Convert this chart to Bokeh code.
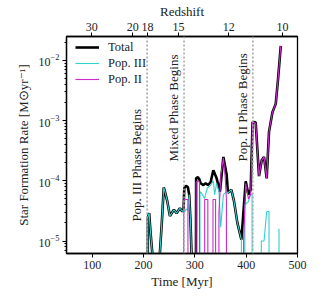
import numpy as np
from bokeh.plotting import figure
from bokeh.models import LinearAxis, FixedTicker, Span, Label, Legend, LegendItem, Range1d
from bokeh.embed import file_html
from bokeh.resources import INLINE

# ---------------- data ----------------
t_total = [205, 207.5, 208.5, 211, 214, 217, 217.5,
           231.5, 232, 235.8, 239.5, 242, 246.3, 251.4, 259.2, 264.5, 270.9, 275.6, 278, 279.5, 283, 286.5, 289, 291.5, 293.5, 294,
           301.5, 302.5, 306, 309, 311.3, 316.6, 321, 325.5, 330.8, 336, 342.5, 349, 355.6, 362, 364.6, 371.2, 376.3, 382.9, 390.7,
           399.1, 404.4, 408.8, 412.5, 414.1, 418.6, 425, 430.3, 434.8, 440, 444.5, 451.2, 457.6, 462.1, 467.4]
sfr_total = [0, 0, 2.5e-5, 2.9e-5, 1.3e-5, 6.5e-6, 0,
             0, 6.5e-6, 2.1e-5, 7.8e-5, 6.5e-5, 4.6e-5, 2.6e-5, 3.3e-5, 2.9e-5, 3.5e-5, 3.1e-5, 3.3e-5, 7.6e-5, 8.3e-5, 7.8e-5, 5.9e-5, 2.2e-5, 6.5e-6, 0,
             0, 1.1e-4, 1.15e-4, 1.05e-4, 9.1e-5, 8.5e-5, 9.1e-5, 8.5e-5, 9.5e-5, 1.5e-4, 1.1e-4, 6.6e-5, 2.5e-4, 1.26e-4, 6.3e-5, 7.1e-5, 4.6e-5, 2.0e-5, 1.05e-5,
             9.8e-5, 5.9e-5, 7.1e-5, 9.5e-4, 9.5e-4, 9.3e-4, 1.2e-4, 2.2e-4, 2.5e-4, 1.1e-4, 6.5e-4, 1.38e-3, 1.9e-3, 4.9e-3, 1.74e-2]

t_pop3 = [205, 207.5, 208.5, 211, 214, 217, 217.5,
          231.5, 232, 235.8, 239.5, 242, 246.3, 251.4, 259.2, 264.5, 270.9, 275.6, 278, 279.5, 283, 286.5, 289, 291.5, 293.5, 294,
          309.5, 310, 311.3, 319, 324.3, 330.8, 336, 338.6, 342.5, 347, 350.3, 355.6, 362, 364.6, 371.2, 376.3, 382.9, 390.7, 391.5,
          397, 397.5, 404.4, 408.8, 411.5, 412,
          429, 429.5, 434.8, 440, 444.5, 445,
          463.5, 464, 464.5]
sfr_pop3 = [0, 0, 2.5e-5, 2.9e-5, 1.3e-5, 6.5e-6, 0,
            0, 6.5e-6, 2.1e-5, 7.8e-5, 6.5e-5, 4.6e-5, 2.6e-5, 3.3e-5, 2.9e-5, 3.5e-5, 3.1e-5, 3.3e-5, 3.0e-5, 3.4e-5, 3.2e-5, 5.9e-5, 2.2e-5, 6.5e-6, 0,
            0, 6.0e-5, 6.6e-5, 5.1e-5, 7.6e-5, 8.5e-5, 1.0e-4, 5.9e-5, 9.1e-5, 6.6e-5, 1.7e-5, 5.9e-5, 6.6e-5, 6.3e-5, 7.1e-5, 4.6e-5, 2.0e-5, 1.05e-5, 0,
            0, 4.0e-5, 4.5e-5, 6.0e-5, 6.0e-5, 0,
            0, 1.0e-5, 1.0e-5, 3.1e-5, 3.1e-5, 0,
            0, 1.6e-5, 0]

t_pop2 = [278, 278.5, 286.5, 287,
          301.5, 302.5, 306, 309, 309.5,
          318.8, 319.2, 325.3, 325.7,
          335, 335.4, 340.4, 340.8,
          346.5, 347, 351, 355.6, 359, 361.5, 362,
          394.5, 395, 399.1, 404.4, 408.8, 412.5, 414.1, 418.6, 425, 430.3, 434.8, 440, 444.5, 451.2, 457.6, 462.1, 467.4]
sfr_pop2 = [0, 4.9e-5, 4.9e-5, 0,
            0, 9.5e-5, 1.0e-4, 9.5e-5, 0,
            0, 4.9e-5, 4.9e-5, 0,
            0, 4.9e-5, 4.9e-5, 0,
            0, 3.0e-5, 1.3e-4, 2.4e-4, 1.2e-4, 5.0e-5, 0,
            0, 1.0e-5, 9.0e-5, 5.0e-5, 6.0e-5, 9.3e-4, 9.3e-4, 9.1e-4, 1.2e-4, 2.2e-4, 2.5e-4, 1.1e-4, 6.5e-4, 1.38e-3, 1.9e-3, 4.9e-3, 1.74e-2]

phase_times = [207, 279, 413]
phase_labels = ["Pop. III Phase Begins", "Mixed Phase Begins", "Pop. II Phase Begins"]
phase_label_y = [2.1e-5, 2.1e-4, 2.1e-4]

time_ticks = [100, 200, 300, 400, 500]
redshift_ticks = [30, 20, 18, 15, 12, 10]
redshift_ages = [99, 179, 208, 268, 366, 471]

# ---------------- plot ----------------
FLOOR = 1e-9  # zero SFR drawn below the visible range


def floored(v):
    return [max(x, FLOOR) for x in v]


FONT = "Liberation Serif"
TXT = "#222222"

p = figure(width=314, height=291, output_backend="svg", toolbar_location=None,
           y_axis_type="log", x_range=Range1d(50, 500), y_range=Range1d(6.2e-6, 2.5e-2),
           min_border_left=66, min_border_right=17, min_border_top=34, min_border_bottom=38)
p.xgrid.visible = False
p.ygrid.visible = False
p.outline_line_color = "black"
p.outline_line_width = 1.3
p.background_fill_color = "white"
p.border_fill_color = "white"

r_tot = p.line(t_total, floored(sfr_total), line_color="black", line_width=2.6)
r_p3 = p.line(t_pop3, floored(sfr_pop3), line_color="#33d0cc", line_width=1.1)
r_p2 = p.line(t_pop2, floored(sfr_pop2), line_color="#cc2acc", line_width=1.1)

for t in phase_times:
    p.add_layout(Span(location=t, dimension="height", line_color="#a8a8a8",
                      line_width=1.6, line_dash="2 2"))

for t, lab, yv in zip(phase_times, phase_labels, phase_label_y):
    p.add_layout(Label(x=t, y=yv, x_offset=-3, text=lab, angle=np.pi / 2,
                       text_align="left", text_baseline="bottom",
                       text_font=FONT, text_font_size="13px", text_color=TXT))

# bottom axis
xa = p.xaxis[0]
xa.ticker = FixedTicker(ticks=time_ticks)
xa.axis_label = "Time [Myr]"
ya = p.yaxis[0]
ya.axis_label = "Star Formation Rate [M\u2299yr\u207b\u00b9]"

for ax in (xa, ya):
    ax.axis_label_text_font = FONT
    ax.axis_label_text_font_style = "normal"
    ax.axis_label_text_font_size = "13px"
    ax.axis_label_text_color = TXT
    ax.major_label_text_font = FONT
    ax.major_label_text_font_size = "12px"
    ax.major_label_text_color = TXT
    ax.axis_line_color = "black"
    ax.axis_line_width = 1.3
    ax.major_tick_line_color = "black"
    ax.major_tick_out = 4
    ax.major_tick_in = 0
    ax.minor_tick_out = 2
    ax.minor_tick_in = 0
xa.minor_tick_line_color = None
xa.axis_label_standoff = 2
xa.major_label_standoff = 3
ya.axis_label_standoff = 5
ya.major_label_standoff = 3

# top redshift axis
top = LinearAxis(ticker=FixedTicker(ticks=redshift_ages),
                 major_label_overrides={a: str(z) for a, z in zip(redshift_ages, redshift_ticks)},
                 axis_label="Redshift")
top.axis_label_text_font = FONT
top.axis_label_text_font_style = "normal"
top.axis_label_text_font_size = "13px"
top.axis_label_text_color = TXT
top.major_label_text_font = FONT
top.major_label_text_font_size = "12px"
top.major_label_text_color = TXT
top.axis_line_color = "black"
top.axis_line_width = 1.3
top.major_tick_out = 4
top.major_tick_in = 0
top.minor_tick_line_color = None
top.axis_label_standoff = 1
top.major_label_standoff = 2
p.add_layout(top, "above")

legend = Legend(items=[LegendItem(label="Total", renderers=[r_tot]),
                       LegendItem(label="Pop. III", renderers=[r_p3]),
                       LegendItem(label="Pop. II", renderers=[r_p2])],
                location=(5, 162))
legend.border_line_alpha = 0
legend.background_fill_alpha = 0
legend.label_text_font = FONT
legend.label_text_font_size = "12.5px"
legend.label_text_color = TXT
legend.glyph_width = 24
legend.glyph_height = 16
legend.label_height = 16
legend.spacing = 0
legend.padding = 4
legend.margin = 0
legend.label_standoff = 9
p.add_layout(legend)

open("out.html", "w").write(file_html(p, INLINE))
